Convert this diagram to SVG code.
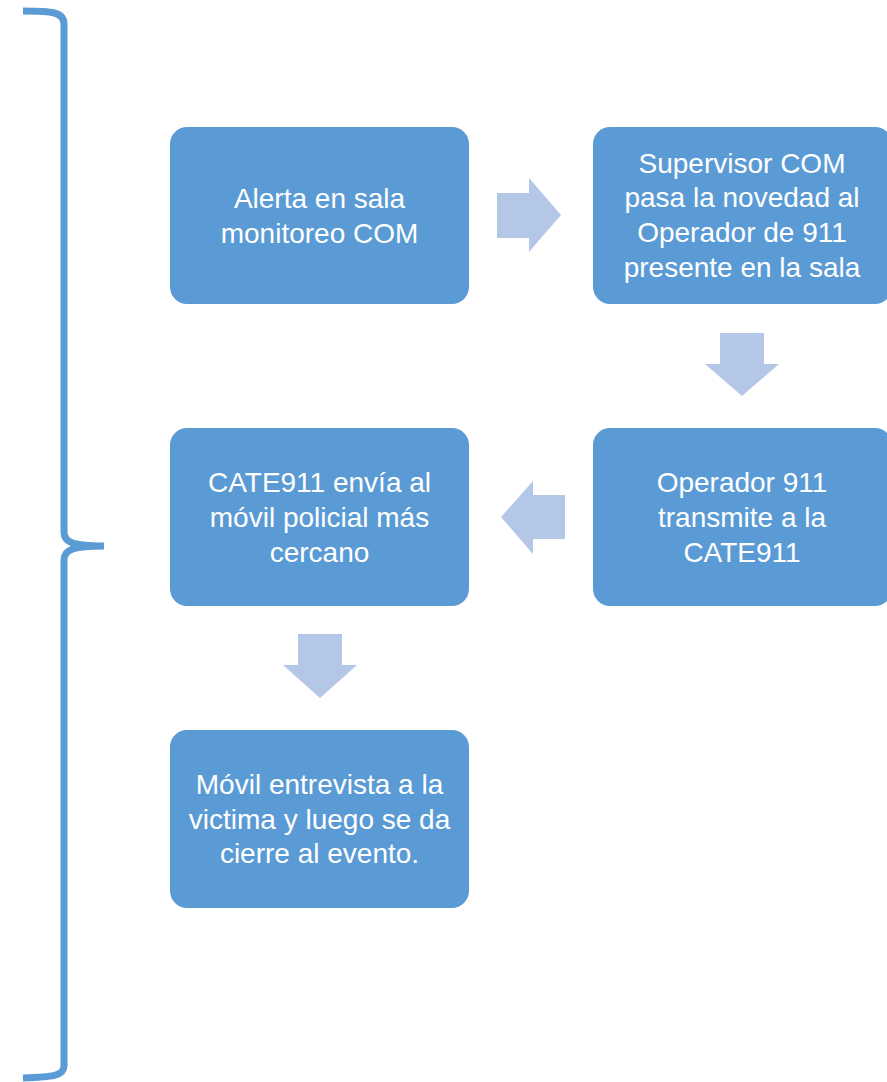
<svg xmlns="http://www.w3.org/2000/svg" width="887" height="1082" viewBox="0 0 887 1082">
<style>
.box{fill:#5B9BD5;}
.arr{fill:#B4C7E7;}
.t{font-family:"Liberation Sans",Arial,sans-serif;font-size:28px;fill:#FFFFFF;text-anchor:middle;}
.brace{fill:none;stroke:#5B9BD5;stroke-width:7;}
</style>
<rect width="887" height="1082" fill="#FFFFFF"/>
<g id="brace">
<path class="brace" d="M23,11 C52,11 64,12 64,24 L64,532 C64,542 72,546 104,546 C72,546 64,550 64,560 L64,1066 C64,1076 52,1077 23,1078"/>
</g>
<g id="connectors">
<polygon class="arr" points="497,193 529,193 529,178 561,215 529,252 529,238 497,238"/>
<polygon class="arr" points="720,333 764,333 764,364 779,364 742,396 705,364 720,364"/>
<polygon class="arr" points="565,495 533,495 533,481 501,517 533,554 533,539 565,539"/>
<polygon class="arr" points="298,634 342,634 342,665 357,665 320,698 283,665 298,665"/>
</g>
<g id="n1">
<rect class="box" x="170" y="127" width="299" height="177" rx="17"/>
<text class="t" x="319.5" y="208">Alerta en sala</text>
<text class="t" x="319.5" y="243">monitoreo COM</text>
</g>
<g id="n2">
<rect class="box" x="593" y="127" width="299" height="177" rx="17"/>
<text class="t" x="742" y="173">Supervisor COM</text>
<text class="t" x="742" y="207">pasa la novedad al</text>
<text class="t" x="742" y="242">Operador de 911</text>
<text class="t" x="742" y="277">presente en la sala</text>
</g>
<g id="n3">
<rect class="box" x="170" y="428" width="299" height="178" rx="17"/>
<text class="t" x="319.5" y="492">CATE911 envía al</text>
<text class="t" x="319.5" y="527">móvil policial más</text>
<text class="t" x="319.5" y="562">cercano</text>
</g>
<g id="n4">
<rect class="box" x="593" y="428" width="299" height="178" rx="17"/>
<text class="t" x="742" y="492">Operador 911</text>
<text class="t" x="742" y="527">transmite a la</text>
<text class="t" x="742" y="562">CATE911</text>
</g>
<g id="n5">
<rect class="box" x="170" y="730" width="299" height="178" rx="17"/>
<text class="t" x="319.5" y="794">Móvil entrevista a la</text>
<text class="t" x="319.5" y="829">victima y luego se da</text>
<text class="t" x="319.5" y="863">cierre al evento.</text>
</g>
</svg>
